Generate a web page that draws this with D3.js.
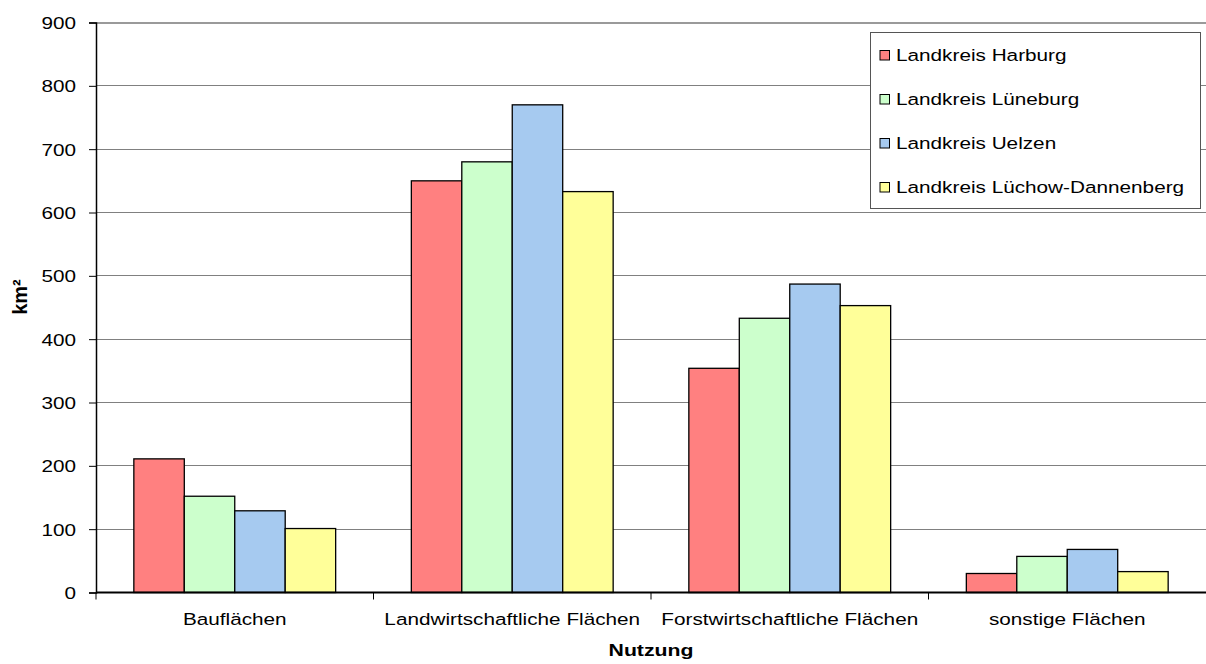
<!DOCTYPE html>
<html>
<head>
<meta charset="utf-8">
<script src="https://cdn.jsdelivr.net/npm/d3@7"></script>
<style>
  html, body { margin: 0; padding: 0; background: #fff; }
  svg { display: block; }
  text { font-family: "Liberation Sans", Arial, sans-serif; fill: #000; }
</style>
</head>
<body>
<svg id="chart" width="1206" height="664"></svg>
<script>
const categories = ["Bauflächen", "Landwirtschaftliche Flächen", "Forstwirtschaftliche Flächen", "sonstige Flächen"];
const seriesNames = ["Landkreis Harburg", "Landkreis Lüneburg", "Landkreis Uelzen", "Landkreis Lüchow-Dannenberg"];
const harburg = [211, 650, 354, 30];
const lueneburg = [152, 680, 433, 57];
const uelzen = [129, 770, 487, 68];
const luechow = [101, 633, 453, 33];
const yTicks = [0, 100, 200, 300, 400, 500, 600, 700, 800, 900];
const colors = ["#FF8080", "#CCFFCC", "#A6CAF0", "#FFFF99"];
const xTitle = "Nutzung";
const yTitle = "km²";

const seriesValues = [harburg, lueneburg, uelzen, luechow];

const svg = d3.select("#chart");
const plotL = 96, plotR = 1206, plotT = 22.5, plotB = 592.5;
const SX = 1.22;  // horizontal stretch of the reference text
const FS = 17;

const x0 = d3.scaleBand().domain(categories).range([plotL, plotR]).paddingInner(0).paddingOuter(0);
const x1 = d3.scaleBand().domain(seriesNames).range([0, x0.bandwidth()]).paddingInner(0).paddingOuter(0.75);
const y = d3.scaleLinear().domain([0, 900]).range([plotB, plotT]);

// gridlines
svg.append("g").selectAll("line")
  .data(yTicks.filter(d => d > 0))
  .join("line")
  .attr("x1", plotL).attr("x2", plotR)
  .attr("y1", d => y(d)).attr("y2", d => y(d))
  .attr("stroke", d => d === 900 ? "#9a9a9a" : "#808080")
  .attr("stroke-width", d => d === 900 ? 2 : 1)
  .attr("shape-rendering", "crispEdges");

// bars
const groups = svg.append("g").selectAll("g")
  .data(categories)
  .join("g")
  .attr("transform", d => `translate(${x0(d)},0)`);

groups.selectAll("rect")
  .data((c, ci) => seriesNames.map((s, si) => ({ s, si, v: seriesValues[si][ci] })))
  .join("rect")
  .attr("x", d => x1(d.s))
  .attr("width", x1.bandwidth())
  .attr("y", d => y(d.v))
  .attr("height", d => y(0) - y(d.v))
  .attr("fill", d => colors[d.si])
  .attr("stroke", "#000")
  .attr("stroke-width", 1.3);

// y axis
const yAxis = svg.append("g")
  .attr("transform", `translate(${plotL},0)`)
  .call(d3.axisLeft(y).tickValues(yTicks).tickSize(7).tickPadding(0).tickFormat(d3.format("d")));
yAxis.select(".domain").attr("stroke", "#000").attr("stroke-width", 1.5);
yAxis.selectAll(".tick line").attr("stroke", "#000");
yAxis.selectAll(".tick text")
  .attr("x", null).attr("dy", "0.36em")
  .attr("transform", `translate(-20,0) scale(${SX},1)`)
  .style("font-size", FS + "px")
  .style("font-family", "'Liberation Sans', Arial, sans-serif")
  .attr("fill", "#000");

// x axis
const xAxisG = svg.append("g").attr("transform", `translate(0,${plotB})`);
xAxisG.append("line")
  .attr("x1", plotL).attr("x2", plotR)
  .attr("y1", 0).attr("y2", 0)
  .attr("stroke", "#000").attr("stroke-width", 1.8);
const boundaries = categories.map(c => x0(c));
xAxisG.selectAll("line.tk")
  .data(boundaries)
  .join("line").attr("class", "tk")
  .attr("x1", d => d).attr("x2", d => d)
  .attr("y1", 0).attr("y2", 7)
  .attr("stroke", "#000").attr("stroke-width", 1);
xAxisG.selectAll("text.cat")
  .data(categories)
  .join("text").attr("class", "cat")
  .attr("transform", d => `translate(${x0(d) + x0.bandwidth() / 2},${625 - plotB}) scale(${SX},1)`)
  .attr("text-anchor", "middle")
  .style("font-size", FS + "px")
  .text(d => d);

// axis titles
svg.append("text")
  .attr("transform", `translate(${(plotL + plotR) / 2},656) scale(1.25,1)`)
  .attr("text-anchor", "middle")
  .style("font-size", FS + "px")
  .style("font-weight", "bold")
  .text(xTitle);

svg.append("text")
  .attr("transform", `translate(27,297) rotate(-90)`)
  .attr("text-anchor", "middle")
  .style("font-size", "20px")
  .style("font-weight", "bold")
  .text(yTitle);

// legend
const lg = svg.append("g");
lg.append("rect")
  .attr("x", 870.5).attr("y", 32.5)
  .attr("width", 330).attr("height", 176)
  .attr("fill", "#fff").attr("stroke", "#555").attr("stroke-width", 1);
const rows = lg.selectAll("g.row")
  .data(seriesNames)
  .join("g").attr("class", "row")
  .attr("transform", (d, i) => `translate(0,${55 + i * 44})`);
rows.append("rect")
  .attr("x", 880).attr("y", -4.5)
  .attr("width", 9.5).attr("height", 9.5)
  .attr("fill", (d, i) => colors[i])
  .attr("stroke", "#000").attr("stroke-width", 1);
rows.append("text")
  .attr("transform", `translate(896,0) scale(${SX},1)`)
  .attr("dy", "0.36em")
  .style("font-size", FS + "px")
  .text(d => d);
</script>
</body>
</html>
